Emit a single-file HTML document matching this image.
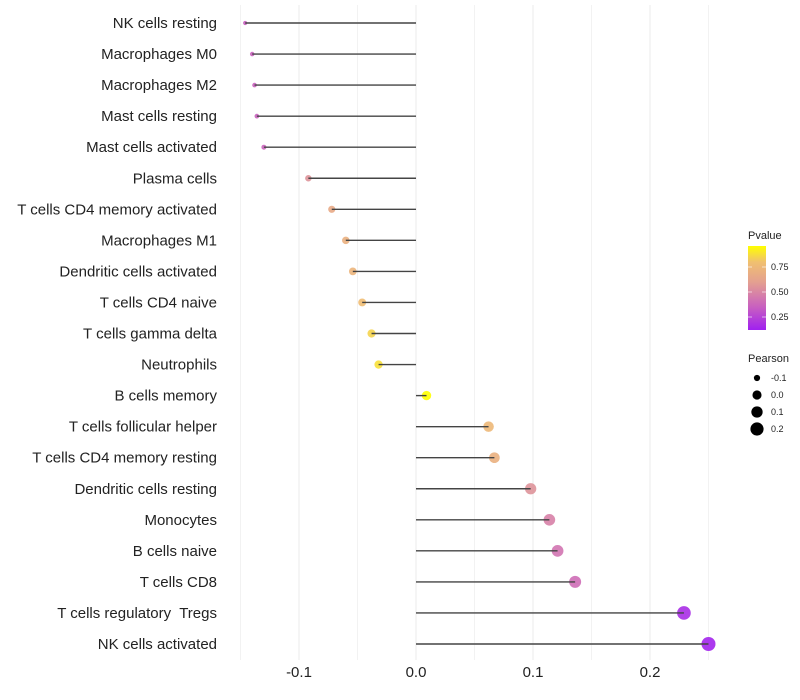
<!DOCTYPE html>
<html><head><meta charset="utf-8"><style>
body{margin:0;background:#fff;font-family:"Liberation Sans",sans-serif}
text{white-space:pre}
</style></head><body>
<svg id="c" width="800" height="700" style="display:block"></svg>
<script>
const cats=["NK cells resting","Macrophages M0","Macrophages M2","Mast cells resting","Mast cells activated","Plasma cells","T cells CD4 memory activated","Macrophages M1","Dendritic cells activated","T cells CD4 naive","T cells gamma delta","Neutrophils","B cells memory","T cells follicular helper","T cells CD4 memory resting","Dendritic cells resting","Monocytes","B cells naive","T cells CD8","T cells regulatory  Tregs","NK cells activated"];
const pearson=[-0.146,-0.140,-0.138,-0.136,-0.130,-0.092,-0.072,-0.060,-0.054,-0.046,-0.038,-0.032,0.009,0.062,0.067,0.098,0.114,0.121,0.136,0.229,0.250];
const pvalue=[0.35,0.36,0.36,0.36,0.37,0.55,0.66,0.7,0.73,0.78,0.85,0.88,0.96,0.75,0.7,0.55,0.48,0.43,0.4,0.15,0.12];
const xTicks=[-0.1,0,0.1,0.2];
const xTickLabels=["-0.1","0.0","0.1","0.2"];
const xMinor=[-0.15,-0.05,0.05,0.15,0.25];
const sizeBreaks=[-0.1,0.0,0.1,0.2];
const pBreaks=[0.25,0.5,0.75];

const NS="http://www.w3.org/2000/svg";
const svg=document.getElementById('c');
function el(t,a,p){const e=document.createElementNS(NS,t);for(const k in a)e.setAttribute(k,a[k]);(p||svg).appendChild(e);return e;}
const x=v=>416+v*1170;
const y=i=>23+i*31.05;
const r=v=>Math.sqrt(Math.max(1,20.9+112.5*v));
const stops=[[0.1,[160,32,240]],[0.35,[200,96,192]],[0.6,[228,160,144]],[0.8,[240,192,112]],[0.96,[255,255,0]]];
function col(p){if(p<=stops[0][0])return 'rgb('+stops[0][1]+')';for(let i=1;i<stops.length;i++){if(p<=stops[i][0]){const a=stops[i-1],b=stops[i],t=(p-a[0])/(b[0]-a[0]);return 'rgb('+a[1].map((c,k)=>Math.round(c+(b[1][k]-c)*t)).join(',')+')';}}return 'rgb(255,255,0)';}

xMinor.forEach(v=>{const g=el('line',{x1:x(v),x2:x(v),y1:5,y2:660,stroke:'#f2f2f2','stroke-width':1});});
xTicks.forEach((v,i)=>{const g=el('line',{x1:x(v),x2:x(v),y1:5,y2:660,stroke:'#ebebeb','stroke-width':1});
const t=el('text',{x:x(v),y:677,'text-anchor':'middle','font-size':15,fill:'#222'});t.textContent=xTickLabels[i];});

cats.forEach((c,i)=>{
const t=el('text',{x:217,y:y(i)+5,'text-anchor':'end','font-size':15,fill:'#222'});t.textContent=c;


const d=el('circle',{cx:x(pearson[i]),cy:y(i),r:r(pearson[i]),fill:col(pvalue[i]),opacity:0.9});


const s=el('line',{x1:x(0),x2:x(pearson[i]),y1:y(i),y2:y(i),stroke:'#444','stroke-width':1.4});


});

const lg=el('g',{});
let t=el('text',{x:748,y:239,'font-size':11,fill:'#222'},lg);t.textContent='Pvalue';
const defs=el('defs',{});const gr=el('linearGradient',{id:'pg',x1:0,y1:1,x2:0,y2:0},defs);
const p0=0.12,p1=0.96;
stops.forEach(s=>el('stop',{offset:Math.max(0,Math.min(1,(s[0]-p0)/(p1-p0))),'stop-color':'rgb('+s[1]+')'},gr));
el('rect',{x:748,y:246,width:18,height:84,fill:'url(#pg)'},lg);
pBreaks.forEach(p=>{const yy=330-(p-p0)*100;el('line',{x1:748,x2:752,y1:yy,y2:yy,stroke:'#fff','stroke-opacity':0.6},lg);el('line',{x1:762,x2:766,y1:yy,y2:yy,stroke:'#fff','stroke-opacity':0.6},lg);
const tt=el('text',{x:771,y:yy+3,'font-size':9,fill:'#222'},lg);tt.textContent=p.toFixed(2);});
const sg=el('g',{});
t=el('text',{x:748,y:362,'font-size':11,fill:'#222'},sg);t.textContent='Pearson';
sizeBreaks.forEach((v,i)=>{const yy=378+i*17;el('circle',{cx:757,cy:yy,r:r(v),fill:'#000'},sg);const tt=el('text',{x:771,y:yy+3,'font-size':9,fill:'#222'},sg);tt.textContent=v.toFixed(1);});
</script>
</body></html>
